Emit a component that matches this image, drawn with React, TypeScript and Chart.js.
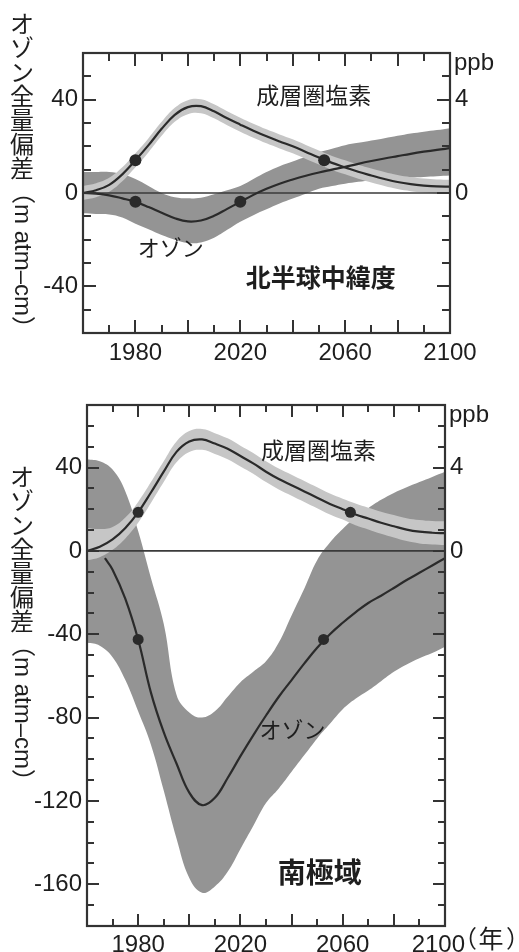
import React, { useEffect, useRef } from "react";
import { Chart, registerables } from "chart.js";

Chart.register(...registerables);

// ---------- shared axes ----------
const YEARS = [1960, 1965, 1970, 1975, 1980, 1985, 1990, 1995, 2000, 2005, 2010, 2015, 2020, 2025, 2030, 2035, 2040, 2045, 2050, 2055, 2060, 2065, 2070, 2075, 2080, 2085, 2090, 2095, 2100];
const X_TICK_LABELS = [1980, 2020, 2060, 2100];
const X_MINOR_TICKS = [1970, 1980, 1990, 2000, 2010, 2020, 2030, 2040, 2050, 2060, 2070, 2080, 2090];
const X_MAJOR_TICKS = [1980, 2000, 2020, 2040, 2060, 2080];
const ZERO_LINE_YEARS = [1960, 2100];
const ZERO_LINE_VALUES = [0, 0];
const PPB_TICK_LABELS = [0, 4];

// ---------- 北半球中緯度 ----------
const NH_Y_TICK_LABELS = [-40, 0, 40];
const NH_Y_MINOR_TICKS = [-50, -40, -30, -20, -10, 0, 10, 20, 30, 40, 50];
const NH_Y_MAJOR_TICKS = [-40, 0, 40];
const NH_CHLORINE = [0, 0.12, 0.35, 0.8, 1.4, 2.05, 2.75, 3.35, 3.68, 3.72, 3.5, 3.2, 2.93, 2.67, 2.43, 2.21, 2.0, 1.76, 1.52, 1.29, 1.1, 0.91, 0.75, 0.6, 0.47, 0.38, 0.32, 0.28, 0.27];
const NH_CHLORINE_UPPER = [0.3, 0.42, 0.65, 1.1, 1.7, 2.35, 3.05, 3.65, 3.98, 4.02, 3.8, 3.5, 3.23, 2.97, 2.73, 2.51, 2.3, 2.06, 1.82, 1.59, 1.4, 1.21, 1.05, 0.9, 0.77, 0.68, 0.62, 0.58, 0.57];
const NH_CHLORINE_LOWER = [-0.3, -0.18, 0.05, 0.5, 1.1, 1.75, 2.45, 3.05, 3.38, 3.42, 3.2, 2.9, 2.63, 2.37, 2.13, 1.91, 1.7, 1.46, 1.22, 0.99, 0.8, 0.61, 0.45, 0.3, 0.17, 0.08, 0.02, -0.02, -0.03];
const NH_OZONE_YEARS = YEARS;
const NH_OZONE = [0, -0.3, -1, -2.3, -3.8, -6, -8.5, -10.8, -12.2, -11.8, -9.8, -6.8, -3.8, -0.8, 1.8, 4, 5.8, 7.4, 8.8, 10, 11.2, 12.5, 13.7, 14.8, 15.8, 16.8, 17.7, 18.5, 19.2];
const NH_OZONE_UPPER = [9, 9, 9, 8, 6, 3, 0, -1.8, -2.3, -2, -0.5, 1.2, 3, 6, 9, 11.5, 13.5, 15.5, 17.5, 19, 20.5, 21.5, 22.5, 23.5, 24.5, 25.5, 26.3, 27, 27.8];
const NH_OZONE_LOWER = [-8.7, -9, -9.2, -10.5, -13.2, -15.5, -18, -20, -21.4, -21.2, -19.2, -15.8, -12.3, -9.5, -7, -4.5, -2.4, -0.3, 1.8, 3, 4, 4.8, 5.5, 6, 6.4, 6.6, 6.9, 7.2, 7.5];
const NH_CHLORINE_DOT_YEARS = [1980, 2052];
const NH_CHLORINE_DOTS = [1.4, 1.4];
const NH_OZONE_DOT_YEARS = [1980, 2020];
const NH_OZONE_DOTS = [-3.8, -3.8];

// ---------- 南極域 ----------
const SP_Y_TICK_LABELS = [-160, -120, -80, -40, 0, 40];
const SP_Y_MINOR_TICKS = [-170, -160, -150, -140, -130, -120, -110, -100, -90, -80, -70, -60, -50, -40, -30, -20, -10, 0, 10, 20, 30, 40, 50, 60];
const SP_Y_MAJOR_TICKS = [-160, -120, -80, -40, 0, 40];
const SP_CHLORINE = [0, 0.2, 0.55, 1.1, 1.85, 2.8, 3.8, 4.75, 5.25, 5.35, 5.15, 4.9, 4.55, 4.2, 3.8, 3.45, 3.15, 2.85, 2.55, 2.25, 2.0, 1.75, 1.55, 1.35, 1.18, 1.02, 0.92, 0.87, 0.85];
const SP_CHLORINE_UPPER = [1.1, 1.05, 1.15, 1.6, 2.35, 3.3, 4.3, 5.25, 5.75, 5.85, 5.65, 5.4, 5.05, 4.7, 4.3, 3.95, 3.65, 3.35, 3.05, 2.75, 2.5, 2.27, 2.07, 1.88, 1.72, 1.57, 1.48, 1.43, 1.42];
const SP_CHLORINE_LOWER = [-0.45, -0.3, 0.05, 0.6, 1.35, 2.3, 3.3, 4.25, 4.75, 4.85, 4.65, 4.4, 4.05, 3.7, 3.3, 2.95, 2.65, 2.35, 2.05, 1.75, 1.5, 1.23, 1.03, 0.82, 0.64, 0.47, 0.36, 0.31, 0.28];
const SP_OZONE_YEARS = [1967, 1970, 1975, 1980, 1985, 1990, 1995, 2000, 2005, 2010, 2015, 2020, 2025, 2030, 2035, 2040, 2045, 2050, 2055, 2060, 2065, 2070, 2075, 2080, 2085, 2090, 2095, 2100];
const SP_OZONE = [-3.5, -9, -23, -42.5, -68, -87, -102, -116, -122, -118.5, -109, -98.5, -88.5, -79, -70, -62, -54, -46.5, -40, -34.5, -29.5, -25, -21.5, -17.8, -14, -10.5, -7, -3.5];
const SP_OZONE_UPPER = [44, 43, 39, 28.5, 9.5, -13, -35, -69, -77.5, -80, -77, -70, -63, -58, -53, -44, -31, -18, -4.5, 4, 10.5, 16, 20.5, 24.5, 27.8, 30.5, 33, 35.5, 38];
const SP_OZONE_LOWER = [-44, -45.5, -51, -62, -77, -93, -115, -138, -157, -164, -161, -154, -143, -132, -121, -114, -106, -98, -90, -83, -76, -71, -67, -62.5, -58, -54.5, -51.5, -49, -46];
const SP_CHLORINE_DOT_YEARS = [1980, 2063];
const SP_CHLORINE_DOTS = [1.85, 1.85];
const SP_OZONE_DOT_YEARS = [1980, 2052.5];
const SP_OZONE_DOTS = [-42.5, -42.5];

// ---------- styles ----------
const DARK_BAND = "rgb(148,148,148)";
const LIGHT_BAND = "rgb(198,198,198)";
const LINE = "#2a2a2a";
const AXIS = "#333333";
const TEXT = "#1e1e1e";
const LATIN = "'Liberation Sans', Arial, Helvetica";
const JP = "'Noto Sans CJK JP', 'Noto Sans CJK SC', sans-serif";

type Note = { text: string; x: number; y: number; size: number; bold?: boolean };

const NH_PANEL = {
  top: 0, height: 372, padTop: 53, xHeight: 39, yWidth: 83, y1Width: 69, xPad: 6,
  yMin: -60, yMax: 60,
  yLabels: NH_Y_TICK_LABELS, yMinor: NH_Y_MINOR_TICKS, yMajor: NH_Y_MAJOR_TICKS,
  tickMajor: 13, tickMinor: 8, dotR: 6,
  titleX: 22, titleTop: 12,
  ozoneYears: NH_OZONE_YEARS, ozone: NH_OZONE, ozoneUpper: NH_OZONE_UPPER, ozoneLower: NH_OZONE_LOWER,
  chlorine: NH_CHLORINE, chlorineUpper: NH_CHLORINE_UPPER, chlorineLower: NH_CHLORINE_LOWER,
  ozoneDotYears: NH_OZONE_DOT_YEARS, ozoneDots: NH_OZONE_DOTS,
  chlorineDotYears: NH_CHLORINE_DOT_YEARS, chlorineDots: NH_CHLORINE_DOTS,
  notes: [
    { text: "成層圏塩素", x: 2048, y: 42, size: 23 },
    { text: "オゾン", x: 1993.5, y: -23.6, size: 22 },
    { text: "北半球中緯度", x: 2050.7, y: -36, size: 25, bold: true },
  ] as Note[],
  yearUnit: false,
};

const SP_PANEL = {
  top: 372, height: 580, padTop: 33, xHeight: 26, yWidth: 87, y1Width: 74, xPad: 5,
  yMin: -180, yMax: 70,
  yLabels: SP_Y_TICK_LABELS, yMinor: SP_Y_MINOR_TICKS, yMajor: SP_Y_MAJOR_TICKS,
  tickMajor: 12, tickMinor: 7, dotR: 5.5,
  titleX: 22, titleTop: 93,
  ozoneYears: SP_OZONE_YEARS, ozone: SP_OZONE, ozoneUpper: SP_OZONE_UPPER, ozoneLower: SP_OZONE_LOWER,
  chlorine: SP_CHLORINE, chlorineUpper: SP_CHLORINE_UPPER, chlorineLower: SP_CHLORINE_LOWER,
  ozoneDotYears: SP_OZONE_DOT_YEARS, ozoneDots: SP_OZONE_DOTS,
  chlorineDotYears: SP_CHLORINE_DOT_YEARS, chlorineDots: SP_CHLORINE_DOTS,
  notes: [
    { text: "成層圏塩素", x: 2050.5, y: 48.5, size: 23 },
    { text: "オゾン", x: 2040.4, y: -86, size: 22 },
    { text: "南極域", x: 2051, y: -154.5, size: 28, bold: true },
  ] as Note[],
  yearUnit: true,
};

type Panel = typeof NH_PANEL;

const pts = (xs: number[], ys: number[]) => xs.map((x, i) => ({ x, y: ys[i] }));

function drawTitle(ctx: CanvasRenderingContext2D, cx: number, top: number, size: number) {
  ctx.save();
  ctx.fillStyle = TEXT;
  ctx.font = `${size}px ${JP}`;
  ctx.textAlign = "center";
  ctx.textBaseline = "middle";
  const chars = ["オ", "ゾ", "ン", "全", "量", "偏", "差"];
  let y = top;
  for (const c of chars) {
    ctx.fillText(c, cx, y + size / 2);
    y += size;
  }
  ctx.translate(cx, y);
  ctx.rotate(Math.PI / 2);
  ctx.textAlign = "left";
  ctx.font = `${size}px ${LATIN}, ${JP}`;
  ctx.fillText("（m atm–cm）", 0, 0);
  ctx.restore();
}

function makePlugin(p: Panel) {
  return {
    id: "frameAndText",
    afterDatasetsDraw(chart: any) {
      const { ctx, chartArea: a, scales } = chart;
      const xs = scales.x;
      const ys = scales.y;
      ctx.save();
      ctx.strokeStyle = AXIS;
      ctx.lineWidth = 2;
      ctx.lineCap = "butt";
      ctx.beginPath();
      for (const v of X_MINOR_TICKS) {
        const px = Math.round(xs.getPixelForValue(v));
        const len = X_MAJOR_TICKS.includes(v) ? p.tickMajor : p.tickMinor;
        ctx.moveTo(px, a.bottom);
        ctx.lineTo(px, a.bottom - len);
        ctx.moveTo(px, a.top);
        ctx.lineTo(px, a.top + len);
      }
      for (const v of p.yMinor) {
        const py = Math.round(ys.getPixelForValue(v));
        const len = p.yMajor.includes(v) ? p.tickMajor : p.tickMinor;
        ctx.moveTo(a.left, py);
        ctx.lineTo(a.left + len, py);
        ctx.moveTo(a.right, py);
        ctx.lineTo(a.right - len, py);
      }
      ctx.stroke();
      ctx.lineWidth = 2.2;
      ctx.strokeRect(a.left, a.top, a.right - a.left, a.bottom - a.top);
      ctx.restore();
    },
    afterDraw(chart: any) {
      const { ctx, chartArea: a, scales } = chart;
      const xs = scales.x;
      const ys = scales.y;
      ctx.save();
      ctx.fillStyle = TEXT;
      ctx.textAlign = "center";
      ctx.textBaseline = "middle";
      for (const n of p.notes) {
        ctx.font = `${n.bold ? "bold " : ""}${n.size}px ${JP}`;
        ctx.fillText(n.text, xs.getPixelForValue(n.x), ys.getPixelForValue(n.y));
      }
      ctx.textAlign = "left";
      ctx.font = `24px ${LATIN}, sans-serif`;
      ctx.fillText("ppb", a.right + 4, a.top + 10);
      if (p.yearUnit) {
        const yy = a.bottom + 12;
        ctx.font = `24px ${JP}`;
        ctx.textAlign = "left";
        ctx.fillText("（", a.right + 8, yy);
        ctx.font = `25px ${JP}`;
        ctx.textAlign = "center";
        ctx.fillText("年", a.right + 46, yy);
        ctx.font = `24px ${JP}`;
        ctx.textAlign = "left";
        ctx.fillText("）", a.right + 61, yy);
      }
      ctx.restore();
      drawTitle(ctx, p.titleX, p.titleTop, 24);
    },
  };
}

function buildConfig(p: Panel): any {
  const tickFont = { family: `${LATIN}, sans-serif`, size: 24 };
  const band = { borderWidth: 0, pointRadius: 0, tension: 0.4 };
  return {
    type: "line",
    data: {
      datasets: [
        { ...band, data: pts(YEARS, p.ozoneUpper), backgroundColor: DARK_BAND, fill: "+1", yAxisID: "y", order: 10 },
        { ...band, data: pts(YEARS, p.ozoneLower), fill: false, yAxisID: "y", order: 9 },
        { ...band, data: pts(YEARS, p.chlorineUpper), backgroundColor: LIGHT_BAND, fill: "+1", yAxisID: "y1", order: 8 },
        { ...band, data: pts(YEARS, p.chlorineLower), fill: false, yAxisID: "y1", order: 7 },
        { data: pts(ZERO_LINE_YEARS, ZERO_LINE_VALUES), borderColor: "#3a3a3a", borderWidth: 1.6, pointRadius: 0, tension: 0, fill: false, yAxisID: "y", order: 6 },
        { data: pts(p.ozoneYears, p.ozone), borderColor: LINE, borderWidth: 2.2, pointRadius: 0, tension: 0.4, fill: false, yAxisID: "y", order: 5 },
        { data: pts(YEARS, p.chlorine), borderColor: LINE, borderWidth: 2.2, pointRadius: 0, tension: 0.4, fill: false, yAxisID: "y1", order: 4 },
        { data: pts(p.ozoneDotYears, p.ozoneDots), showLine: false, pointRadius: p.dotR, pointBackgroundColor: LINE, pointBorderWidth: 0, yAxisID: "y", order: 2 },
        { data: pts(p.chlorineDotYears, p.chlorineDots), showLine: false, pointRadius: p.dotR, pointBackgroundColor: LINE, pointBorderWidth: 0, yAxisID: "y1", order: 1 },
      ],
    },
    options: {
      responsive: false,
      animation: false,
      events: [],
      layout: { padding: { top: p.padTop, left: 0, right: 0, bottom: 0 } },
      plugins: { legend: { display: false }, tooltip: { enabled: false }, title: { display: false } },
      scales: {
        x: {
          type: "linear",
          min: 1960,
          max: 2100,
          grid: { display: false, drawTicks: false },
          border: { display: false },
          afterBuildTicks: (s: any) => { s.ticks = X_TICK_LABELS.map((v) => ({ value: v })); },
          afterFit: (s: any) => { s.height = p.xHeight; },
          ticks: {
            font: tickFont, color: TEXT, padding: p.xPad, maxRotation: 0, autoSkip: false,
            callback: (v: any) => (p.yearUnit && v === 2100 ? "2100  " : String(v)),
          },
        },
        y: {
          type: "linear",
          position: "left",
          min: p.yMin,
          max: p.yMax,
          grid: { display: false, drawTicks: false },
          border: { display: false },
          afterBuildTicks: (s: any) => { s.ticks = p.yLabels.map((v) => ({ value: v })); },
          afterFit: (s: any) => { s.width = p.yWidth; },
          ticks: { font: tickFont, color: TEXT, padding: 5, autoSkip: false, callback: (v: any) => String(v) },
        },
        y1: {
          type: "linear",
          position: "right",
          min: p.yMin / 10,
          max: p.yMax / 10,
          grid: { display: false, drawTicks: false },
          border: { display: false },
          afterBuildTicks: (s: any) => { s.ticks = PPB_TICK_LABELS.map((v) => ({ value: v })); },
          afterFit: (s: any) => { s.width = p.y1Width; },
          ticks: { font: tickFont, color: TEXT, padding: 5, autoSkip: false, callback: (v: any) => String(v) },
        },
      },
    },
    plugins: [makePlugin(p)],
  };
}

function PanelChart({ panel }: { panel: Panel }) {
  const ref = useRef<HTMLCanvasElement>(null);
  useEffect(() => {
    const chart = new Chart(ref.current as HTMLCanvasElement, buildConfig(panel));
    return () => chart.destroy();
  }, [panel]);
  return (
    <canvas
      ref={ref}
      width={519}
      height={panel.height}
      style={{ position: "absolute", left: 0, top: panel.top, width: 519, height: panel.height }}
    />
  );
}

export default function App() {
  return (
    <div style={{ position: "absolute", left: 0, top: 0, width: 519, height: 952, background: "#ffffff" }}>
      <PanelChart panel={NH_PANEL} />
      <PanelChart panel={SP_PANEL} />
    </div>
  );
}
